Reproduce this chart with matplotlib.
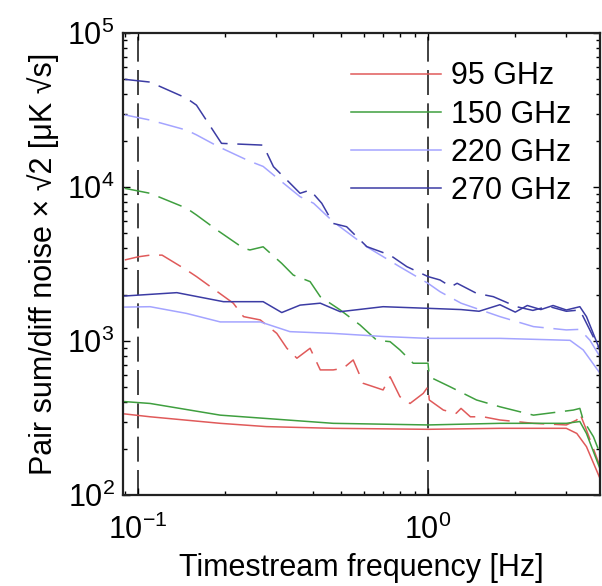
import matplotlib
matplotlib.use("Agg")
import matplotlib.pyplot as plt
from matplotlib.ticker import LogLocator, NullFormatter

plt.rcParams["font.family"] = ["Liberation Sans", "DejaVu Sans"]
plt.rcParams["mathtext.fontset"] = "custom"
plt.rcParams["mathtext.rm"] = "Liberation Sans"
plt.rcParams["lines.scale_dashes"] = False

COLORS = {"95": "#e05a5a", "150": "#3f9f3f", "220": "#a4a4ff", "270": "#3c3ca4"}

# pair-diff (solid) noise
f_diff_95 = [0.09, 0.11, 0.192, 0.277, 0.471, 1.0, 1.77, 3.0, 3.26, 3.52, 3.92]
v_diff_95 = [336, 322, 292, 278, 271, 267, 271, 271, 251, 206, 128]
f_diff_150 = [0.09, 0.11, 0.192, 0.471, 1.0, 1.77, 3.0, 3.34, 3.52, 3.92]
v_diff_150 = [404, 393, 330, 292, 285, 292, 292, 300, 251, 148]
f_diff_220 = [0.09, 0.11, 0.147, 0.192, 0.264, 0.334, 0.471, 0.70, 1.0, 1.77, 3.09, 3.43, 3.92]
v_diff_220 = [1660, 1670, 1510, 1330, 1330, 1150, 1120, 1070, 1040, 1040, 1010, 875, 617]
f_diff_270 = [0.09, 0.136, 0.197, 0.27, 0.313, 0.362, 0.425, 0.498, 0.70, 1.0, 1.3, 1.5,
              1.77, 2.0, 2.2, 2.45, 2.7, 3.0, 3.34, 3.52, 3.92]
v_diff_270 = [1960, 2060, 1800, 1800, 1530, 1710, 1760, 1550, 1670, 1630, 1600, 1560,
              1720, 1540, 1700, 1600, 1700, 1590, 1670, 1440, 870]

# pair-sum (dashed) noise
f_sum_95 = [0.09, 0.10, 0.11, 0.121, 0.147, 0.159, 0.213, 0.231, 0.264, 0.301, 0.326, 0.353,
            0.392, 0.425, 0.471, 0.51, 0.552, 0.598, 0.648, 0.70, 0.74, 0.80, 0.867, 0.963,
            1.0, 1.01, 1.13, 1.25, 1.3, 1.4, 1.55, 1.77, 2.31, 3.0, 3.26, 3.34, 3.52, 3.92]
v_sum_95 = [3360, 3520, 3610, 3610, 2890, 2620, 1760, 1440, 1370, 1120, 897, 773,
            897, 649, 649, 665, 753, 531, 505, 481, 586, 435, 393, 457,
            505, 414, 356, 339, 365, 322, 322, 307, 292, 285, 307, 339, 264, 153]
f_sum_150 = [0.09, 0.11, 0.147, 0.159, 0.187, 0.231, 0.243, 0.27, 0.313, 0.343, 0.392, 0.425,
             0.498, 0.583, 0.666, 0.74, 0.80, 0.889, 1.0, 1.01, 1.19, 1.47, 1.77, 2.31,
             2.85, 3.17, 3.34, 3.43, 3.72, 3.92]
v_sum_150 = [9800, 9100, 7280, 6580, 5260, 4000, 3900, 4090, 3190, 2680, 2430, 1940,
             1590, 1270, 1010, 990, 875, 717, 717, 586, 505, 414, 374, 330,
             347, 356, 365, 307, 239, 186]
f_sum_220 = [0.09, 0.11, 0.147, 0.159, 0.189, 0.237, 0.245, 0.27, 0.317, 0.362, 0.403, 0.471,
             0.615, 0.80, 1.0, 1.1, 1.3, 1.77, 2.31, 3.0, 3.34, 3.62, 3.92]
v_sum_220 = [29400, 27200, 23400, 21800, 18300, 15000, 14600, 13600, 10600, 8650, 7840, 5950,
             4090, 3030, 2370, 2090, 1760, 1440, 1240, 1180, 1190, 1010, 790]
f_sum_270 = [0.09, 0.11, 0.147, 0.159, 0.194, 0.27, 0.293, 0.334, 0.362, 0.392, 0.43, 0.471,
             0.524, 0.615, 0.74, 0.845, 1.0, 1.1, 1.2, 1.26, 1.47, 1.68, 2.02, 2.3, 2.6,
             3.0, 3.34, 3.92]
v_sum_270 = [50000, 48000, 37700, 34000, 19200, 18700, 13550, 10600, 9100, 9550, 7840, 5800,
             5520, 4100, 3610, 3040, 2620, 2490, 2250, 2370, 2040, 1940, 1670, 1580, 1680,
             1560, 1590, 870]

series = [
    ("95", f_diff_95, v_diff_95, f_sum_95, v_sum_95),
    ("150", f_diff_150, v_diff_150, f_sum_150, v_sum_150),
    ("220", f_diff_220, v_diff_220, f_sum_220, v_sum_220),
    ("270", f_diff_270, v_diff_270, f_sum_270, v_sum_270),
]

fig = plt.figure(figsize=(6.02, 5.86), dpi=100)
ax = fig.add_axes([0.2043, 0.1553, 0.7924, 0.7884])

for name, fd, vd, fs, vs in series:
    c = COLORS[name]
    ax.plot(fs, vs, color=c, lw=1.1, dashes=(18, 7))
    ax.plot(fd, vd, color=c, lw=1.1, label=name + " GHz")

for xv in [0.1, 1.0]:
    ax.axvline(xv, color="#333333", lw=1.3, dashes=(18, 6), zorder=0)

ax.set_xscale("log")
ax.set_yscale("log")
ax.set_xlim(0.0887, 3.92)
ax.set_ylim(1e2, 1e5)

ax.xaxis.set_minor_locator(LogLocator(base=10, subs=range(2, 10)))
ax.yaxis.set_minor_locator(LogLocator(base=10, subs=range(2, 10)))
ax.xaxis.set_minor_formatter(NullFormatter())
ax.yaxis.set_minor_formatter(NullFormatter())
ax.tick_params(which="both", direction="in", top=True, right=True, labelsize=22, width=1)
ax.tick_params(which="major", length=5)
ax.tick_params(which="minor", length=3)
ax.tick_params(axis="x", pad=14)
ax.tick_params(axis="y", pad=6)
for s in ax.spines.values():
    s.set_linewidth(1.6)
    s.set_color("#222222")

ax.set_xlabel("Timestream frequency [Hz]", fontsize=22, labelpad=5)
ax.set_ylabel("Pair sum/diff noise × √2 [μK √s]", fontsize=22, labelpad=6)

ax.legend(loc="upper right", bbox_to_anchor=(0.984, 0.985), frameon=False, fontsize=22,
          handlelength=2.95, handletextpad=0.3, labelspacing=0.27, borderaxespad=0.3)

fig.savefig("out.png", dpi=100)
